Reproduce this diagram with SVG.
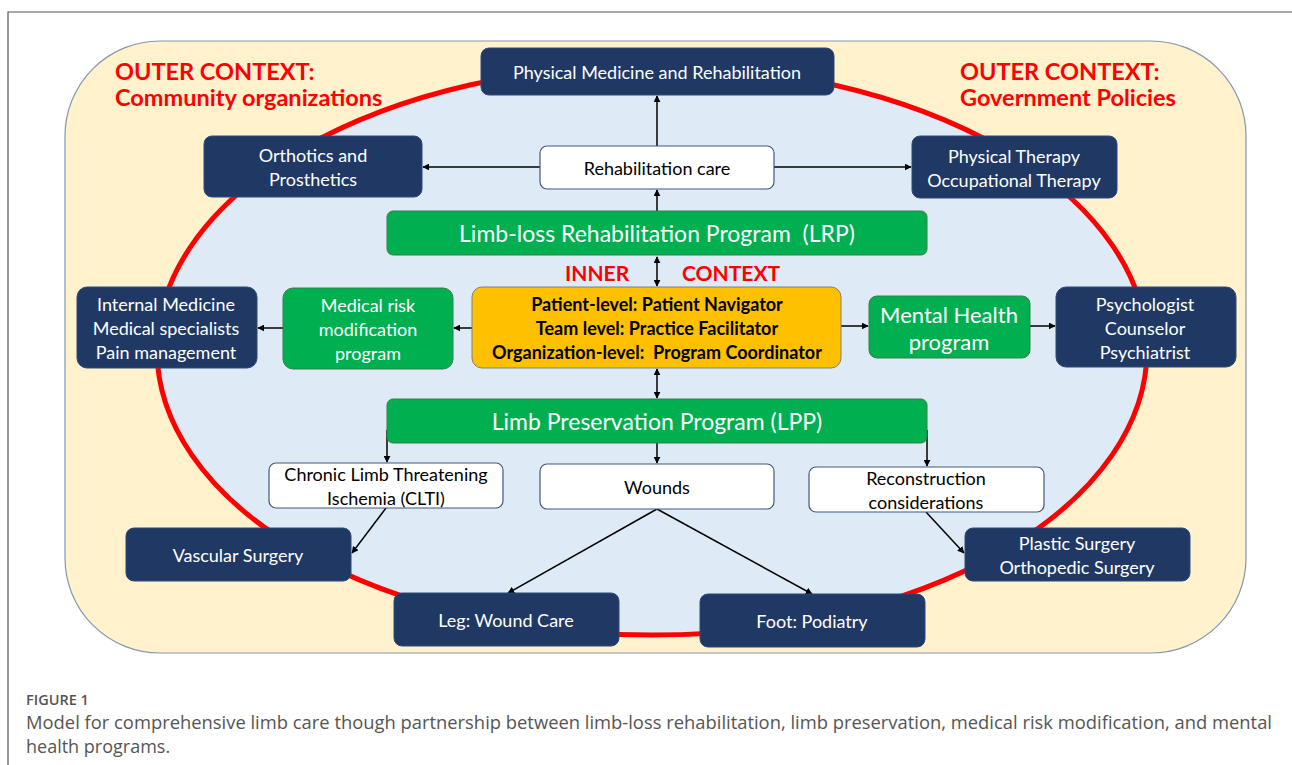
<svg xmlns="http://www.w3.org/2000/svg" width="1292" height="765" viewBox="0 0 1292 765">
<defs>
<style>
.navy{fill:#203864;stroke:#2F4A7A;stroke-width:1}
.green{fill:#00B050;stroke:#3A7D4A;stroke-width:1}
.white{fill:#FFFFFF;stroke:#41597F;stroke-width:1.2}
.yellow{fill:#FFC000;stroke:#7F7F7F;stroke-width:1}
.t{font-family:Lato,"Liberation Sans",sans-serif;font-size:18px;text-anchor:middle;dominant-baseline:central;white-space:pre}
.tw{fill:#FFFFFF}
.tb{fill:#000000}
.big{font-size:23px}
.mh{font-size:22px}
.bold{font-weight:bold}
.red{font-family:Lato,"Liberation Sans",sans-serif;font-weight:bold;fill:#FF0000;font-size:23.5px}
.red.in{font-size:21px}
.cap{font-family:"Open Sans","Liberation Sans",sans-serif;fill:#555555}
.conn line{stroke:#000000;stroke-width:1.5}
</style>
<marker id="ah" viewBox="0 0 10 10" refX="9" refY="5" markerWidth="7" markerHeight="7" orient="auto-start-reverse" markerUnits="userSpaceOnUse">
<path d="M0,0 L10,5 L0,10 z" fill="#000"/>
</marker>
</defs>
<rect x="0" y="0" width="1292" height="765" fill="#FFFFFF"/>
<path d="M8,765 V12 H1292" fill="none" stroke="#555555" stroke-width="1.2"/>
<g id="outer">
<rect x="65" y="41" width="1181" height="612" rx="95" ry="95" fill="#FFF2CC" stroke="#8497B0" stroke-width="1.2"/>
<ellipse cx="652" cy="350" rx="495" ry="285" fill="#DEEBF7" stroke="#FF0000" stroke-width="5"/>
<text class="red" x="115" y="80">OUTER CONTEXT:</text>
<text class="red" x="115" y="106">Community organizations</text>
<text class="red" x="960" y="80">OUTER CONTEXT:</text>
<text class="red" x="960" y="106">Government Policies</text>
<text class="red in" x="565" y="281">INNER</text>
<text class="red in" x="682" y="281">CONTEXT</text>
</g>
<g class="conn" id="connectors">
<line x1="657" y1="146" x2="657" y2="96" marker-end="url(#ah)"/>
<line x1="540" y1="167" x2="423" y2="167" marker-end="url(#ah)"/>
<line x1="774" y1="167" x2="911" y2="167" marker-end="url(#ah)"/>
<line x1="657" y1="211" x2="657" y2="190" marker-end="url(#ah)"/>
<line x1="657" y1="257" x2="657" y2="286" marker-start="url(#ah)" marker-end="url(#ah)"/>
<line x1="657" y1="369" x2="657" y2="398" marker-start="url(#ah)" marker-end="url(#ah)"/>
<line x1="472" y1="328" x2="454" y2="328" marker-end="url(#ah)"/>
<line x1="283" y1="328" x2="258" y2="328" marker-end="url(#ah)"/>
<line x1="841" y1="326" x2="868" y2="326" marker-end="url(#ah)"/>
<line x1="1030" y1="326" x2="1055" y2="326" marker-end="url(#ah)"/>
<line x1="387" y1="430" x2="387" y2="462" marker-end="url(#ah)"/>
<line x1="657" y1="443" x2="657" y2="463" marker-end="url(#ah)"/>
<line x1="927" y1="430" x2="927" y2="466" marker-end="url(#ah)"/>
<line x1="386" y1="508" x2="352" y2="553" marker-end="url(#ah)"/>
<line x1="657" y1="509" x2="508" y2="593" marker-end="url(#ah)"/>
<line x1="657" y1="509" x2="812" y2="594" marker-end="url(#ah)"/>
<line x1="926" y1="512" x2="964" y2="553" marker-end="url(#ah)"/>
</g>
<g id="pmr"><rect class="navy" x="481" y="48" width="353" height="47" rx="8"/><text class="t tw" x="657" y="72">Physical Medicine and Rehabilitation</text></g>
<g id="orthotics"><rect class="navy" x="204" y="136" width="218" height="61" rx="8"/><text class="t tw" x="313" y="155">Orthotics and</text><text class="t tw" x="313" y="179">Prosthetics</text></g>
<g id="rehabcare"><rect class="white" x="540" y="146" width="234" height="43" rx="7"/><text class="t tb" x="657" y="168">Rehabilitation care</text></g>
<g id="ptot"><rect class="navy" x="912" y="136" width="205" height="62" rx="8"/><text class="t tw" x="1014" y="156">Physical Therapy</text><text class="t tw" x="1014" y="180">Occupational Therapy</text></g>
<g id="lrp"><rect class="green" x="387" y="211" width="540" height="44" rx="6"/><text class="t tw big" x="657" y="233">Limb-loss Rehabilitation Program  (LRP)</text></g>
<g id="inner"><rect class="yellow" x="472" y="287" width="369" height="81" rx="10"/><text class="t tb bold" x="657" y="304">Patient-level: Patient Navigator</text><text class="t tb bold" x="657" y="328">Team level: Practice Facilitator</text><text class="t tb bold" x="657" y="352">Organization-level:  Program Coordinator</text></g>
<g id="medrisk"><rect class="green" x="283" y="288" width="170" height="81" rx="10"/><text class="t tw" x="368" y="305">Medical risk</text><text class="t tw" x="368" y="329">modification</text><text class="t tw" x="368" y="353">program</text></g>
<g id="internal"><rect class="navy" x="77" y="287" width="180" height="81" rx="10"/><text class="t tw" x="166" y="304">Internal Medicine</text><text class="t tw" x="166" y="328">Medical specialists</text><text class="t tw" x="166" y="352">Pain management</text></g>
<g id="mental"><rect class="green" x="869" y="296" width="161" height="62" rx="8"/><text class="t tw mh" x="949" y="314">Mental Health</text><text class="t tw mh" x="949" y="341">program</text></g>
<g id="psych"><rect class="navy" x="1056" y="287" width="180" height="80" rx="10"/><text class="t tw" x="1145" y="304">Psychologist</text><text class="t tw" x="1145" y="328">Counselor</text><text class="t tw" x="1145" y="352">Psychiatrist</text></g>
<g id="lpp"><rect class="green" x="387" y="399" width="540" height="44" rx="6"/><text class="t tw big" x="657" y="421">Limb Preservation Program (LPP)</text></g>
<g id="clti"><rect class="white" x="269" y="463" width="234" height="45" rx="7"/><text class="t tb" x="386" y="474">Chronic Limb Threatening</text><text class="t tb" x="386" y="498">Ischemia (CLTI)</text></g>
<g id="wounds"><rect class="white" x="540" y="464" width="234" height="45" rx="7"/><text class="t tb" x="657" y="487">Wounds</text></g>
<g id="recon"><rect class="white" x="809" y="467" width="235" height="45" rx="7"/><text class="t tb" x="926" y="478">Reconstruction</text><text class="t tb" x="926" y="502">considerations</text></g>
<g id="vascular"><rect class="navy" x="126" y="528" width="225" height="53" rx="8"/><text class="t tw" x="238" y="555">Vascular Surgery</text></g>
<g id="leg"><rect class="navy" x="394" y="593" width="225" height="53" rx="8"/><text class="t tw" x="506" y="620">Leg: Wound Care</text></g>
<g id="foot"><rect class="navy" x="700" y="594" width="225" height="53" rx="8"/><text class="t tw" x="812" y="621">Foot: Podiatry</text></g>
<g id="plastic"><rect class="navy" x="965" y="528" width="225" height="53" rx="8"/><text class="t tw" x="1077" y="543">Plastic Surgery</text><text class="t tw" x="1077" y="567">Orthopedic Surgery</text></g>
<g id="caption">
<text class="cap" x="26" y="705" font-size="14.5" font-weight="600">FIGURE 1</text>
<text class="cap" x="26" y="729" font-size="18" textLength="1246" lengthAdjust="spacingAndGlyphs">Model for comprehensive limb care though partnership between limb-loss rehabilitation, limb preservation, medical risk modification, and mental</text>
<text class="cap" x="26" y="753" font-size="18">health programs.</text>
</g>
</svg>
